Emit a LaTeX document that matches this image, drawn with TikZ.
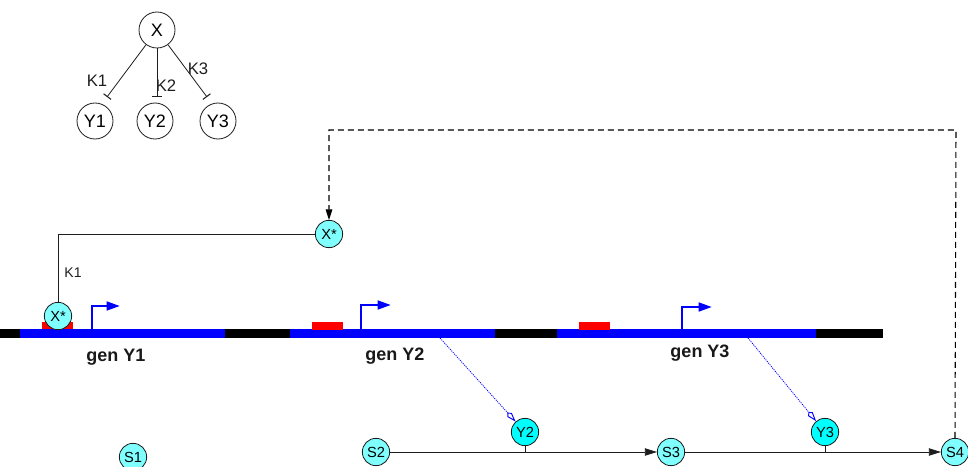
\documentclass[tikz,border=0pt]{standalone}
\usepackage{fontspec}
\setmainfont{Liberation Sans}
\usetikzlibrary{arrows.meta}
\definecolor{lcyan}{RGB}{128,255,255}
\definecolor{bcyan}{RGB}{0,255,255}
\definecolor{linegray}{RGB}{30,30,30}
\begin{document}
\begin{tikzpicture}[x=0.75pt,y=-0.75pt,
  treenode/.style={circle, draw=linegray, line width=0.6pt, inner sep=0pt, minimum size=27pt, font=\fontsize{13.5}{15}\selectfont},
  smallnode/.style={circle, draw=linegray, line width=0.6pt, inner sep=0pt, minimum size=20.5pt, fill=lcyan, font=\fontsize{11}{12}\selectfont},
  ynode/.style={smallnode, fill=bcyan},
  inh/.style={draw=linegray, line width=0.6pt, -{Bar[width=7pt,line width=0.8pt]}},
  klabel/.style={font=\fontsize{12.5}{14}\selectfont, text=linegray, inner sep=0pt},
  conn/.style={draw=linegray, line width=0.6pt},
  flow/.style={conn, -{Triangle[length=9pt,width=5.5pt]}},
  fb/.style={draw=black, line width=0.8pt, dash pattern=on 4.5pt off 3pt, -{Triangle[length=8pt,width=5pt]}},
  expr/.style={blue, line width=0.6pt, dash pattern=on 0.8pt off 0.8pt, -{Kite[open,length=9pt,width=4.5pt,line width=0.7pt]}},
  prom/.style={blue, line width=1.9pt, -{Triangle[length=10pt,width=6.5pt]}},
  genlabel/.style={font=\bfseries\fontsize{13.5}{15}\selectfont, text=black!90}
]
\useasboundingbox (0,0) rectangle (968,467);

% ---- tree ----
\node[treenode] (x) at (157,30) {X};
\node[treenode] (ty1) at (95,121) {Y1};
\node[treenode] (ty2) at (155,121) {Y2};
\node[treenode] (ty3) at (218,121) {Y3};
\coordinate (e1) at (107,97);
\coordinate (e2) at (157,97);
\coordinate (e3) at (207,97);
\draw[inh] (x) -- (e1);
\draw[inh] (x) -- (e2);
\draw[inh] (x) -- (e3);
\node[klabel] (k1) at (97,81) {K1};
\node[klabel] (k2) at (166,86) {K2};
\node[klabel] (k3) at (198,69) {K3};

% ---- DNA bar ----
\fill[black] (0,329) rectangle (883,338);
\fill[blue] (20,329) rectangle (225,338);
\fill[blue] (290,329) rectangle (495,338);
\fill[blue] (557,329) rectangle (816,338);
\fill[red] (42,322) rectangle (73,329);
\fill[red] (312,322) rectangle (343,330);
\fill[red] (579,322) rectangle (610,330);

% promoters
\coordinate (p1a) at (92,329);  \coordinate (p1b) at (120,306);
\coordinate (p2a) at (361,329); \coordinate (p2b) at (391,305);
\coordinate (p3a) at (682,329); \coordinate (p3b) at (712,307);
\draw[prom] (p1a) |- (p1b);
\draw[prom] (p2a) |- (p2b);
\draw[prom] (p3a) |- (p3b);

\node[genlabel] (g1) at (116,357) {gen Y1};
\node[genlabel] (g2) at (395,356) {gen Y2};
\node[genlabel] (g3) at (700,353) {gen Y3};

% ---- X* nodes ----
\node[smallnode] (xs1) at (329,234) {X*};
\node[smallnode] (xs2) at (58,316) {X*};
\draw[conn] (xs1.west) -| (xs2.north);
\node[font=\fontsize{10.5}{12}\selectfont, text=linegray, inner sep=0pt] (k1b) at (73,273) {K1};

% ---- bottom row ----
\node[smallnode] (s1) at (133,457) {S1};
\node[smallnode] (s2) at (376,452) {S2};
\node[smallnode] (s3) at (671,452) {S3};
\node[smallnode] (s4) at (955,452) {S4};
\node[ynode] (y2) at (525,432) {Y2};
\node[ynode] (y3) at (825,432) {Y3};
\draw[flow] (s2) -- (s3);
\draw[flow] (s3) -- (s4);
\draw[conn] (y2.south) -- (y2.south |- s2.center);
\draw[conn] (y3.south) -- (y3.south |- s3.center);

% expression
\coordinate (ex2) at (440,338);
\coordinate (ex3) at (748,338);
\draw[expr] (ex2) -- (y2);
\draw[expr] (ex3) -- (y3);

% feedback
\coordinate (dtop) at (956,130);
\draw[fb] (s4.north) -- (dtop) -| (xs1.north);
\end{tikzpicture}
\end{document}
